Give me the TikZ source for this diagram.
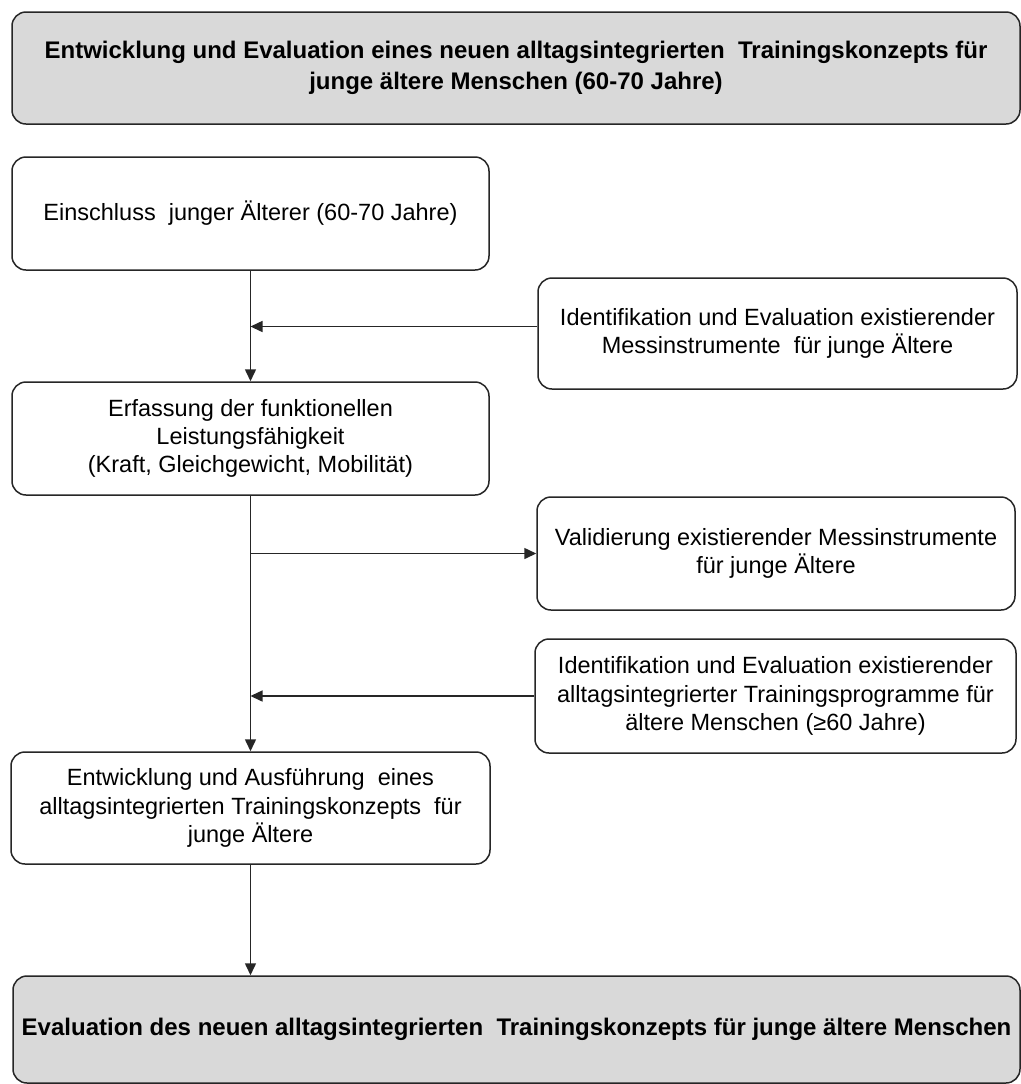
\documentclass[tikz,border=0pt]{standalone}
\usepackage{fontspec}
\setmainfont{Liberation Sans}
\usetikzlibrary{arrows.meta}
\tikzset{
  stepbox/.style={
    draw=black!85,line width=0.75pt,rounded corners=7pt,fill=white,
    align=center,inner sep=0pt,font=\fontsize{11.75}{14.2}\selectfont,
  },
  headbox/.style={
    stepbox,fill=black!15,font=\bfseries\fontsize{12}{15.5}\selectfont,
  },
  flow/.style={
    draw=black!85,line width=0.75pt,-{Triangle[length=6pt,width=5.5pt]},
  },
}

\begin{document}
\begin{tikzpicture}[x=0.5pt,y=-0.5pt]
        \useasboundingbox[fill=white] (0,0) rectangle (1021,1084);
        % boxes
        \node[headbox, minimum width=504pt, minimum height=56pt] (head) at (516,68)
            {Entwicklung und Evaluation eines neuen alltagsintegrierten \ Trainingskonzepts für\\junge ältere Menschen (60-70 Jahre)};
        \node[stepbox, minimum width=238.5pt, minimum height=56.5pt] (incl) at (250.5,213.5)
            {Einschluss \ junger Älterer (60-70 Jahre)};
        \node[stepbox, minimum width=239.5pt, minimum height=55.5pt] (meas) at (777.5,333.5)
            {Identifikation und Evaluation existierender\\Messinstrumente \ für junge Ältere};
        \node[stepbox, minimum width=238.5pt, minimum height=56.5pt] (func) at (250.5,438.5)
            {Erfassung der funktionellen\\Leistungsfähigkeit\\(Kraft, Gleichgewicht, Mobilität)};
        \node[stepbox, minimum width=239pt, minimum height=56.5pt] (valid) at (776,553.5)
            {Validierung existierender Messinstrumente\\für junge Ältere};
        \node[stepbox, minimum width=240.5pt, minimum height=57pt] (prog) at (775.5,696)
            {Identifikation und Evaluation existierender\\alltagsintegrierter Trainingsprogramme für\\ältere Menschen (≥60 Jahre)};
        \node[stepbox, minimum width=239.5pt, minimum height=56pt] (conc) at (250.5,808)
            {Entwicklung und Ausführung \ eines\\alltagsintegrierten Trainingskonzepts \ für\\junge Ältere};
        \node[headbox, minimum width=503.5pt, minimum height=53.5pt] (eval) at (516.5,1029.5)
            {Evaluation des neuen alltagsintegrierten \ Trainingskonzepts für junge ältere Menschen};
        % arrows
        \draw[flow] (incl.south) -- (func.north);
        \draw[flow] (func.south) -- (conc.north);
        \draw[flow] (conc.south) -- (conc.south |- eval.north);
        \draw[flow] ([yshift=3.5pt]meas.west) -- ([yshift=3.5pt]meas.west -| incl.south);
        \draw[flow] (valid.west -| func.south) -- (valid.west);
        \draw[flow] (prog.west) -- (prog.west -| func.south);
\end{tikzpicture}
\end{document}
